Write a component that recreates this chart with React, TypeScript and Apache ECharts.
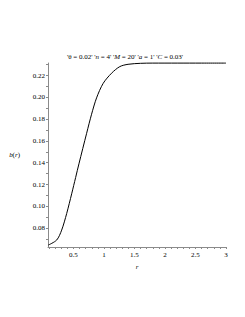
import React, { useEffect, useRef } from "react";
import * as echarts from "echarts";

const rValues = [0.088, 0.2255, 0.307, 0.389, 0.471, 0.536, 0.59, 0.716, 0.797, 0.879, 0.987, 1.124, 1.26, 1.395, 1.6, 1.8, 2.2, 2.6, 3.0];
const bValues = [0.0645, 0.0691, 0.0782, 0.0934, 0.1115, 0.1265, 0.139, 0.167, 0.1845, 0.1995, 0.2128, 0.2221, 0.2282, 0.2303, 0.2312, 0.2314, 0.2314, 0.2314, 0.2314];
const xTickLabels = [0.5, 1, 1.5, 2, 2.5, 3];
const xMinorTicks = [0.1, 0.2, 0.3, 0.4, 0.5, 0.6, 0.7, 0.8, 0.9, 1.0, 1.1, 1.2, 1.3, 1.4, 1.5, 1.6, 1.7, 1.8, 1.9, 2.0, 2.1, 2.2, 2.3, 2.4, 2.5, 2.6, 2.7, 2.8, 2.9, 3.0];
const yTickLabels = [0.08, 0.1, 0.12, 0.14, 0.16, 0.18, 0.2, 0.22];
const yMinorTicks = [0.07, 0.08, 0.09, 0.1, 0.11, 0.12, 0.13, 0.14, 0.15, 0.16, 0.17, 0.18, 0.19, 0.2, 0.21, 0.22, 0.23];

const FONT = "Liberation Serif";

export default function App() {
  const ref = useRef<HTMLDivElement>(null);
  useEffect(() => {
    if (!ref.current) return;
    const chart = echarts.init(ref.current, null, { renderer: "svg" });
    chart.setOption({
      animation: false,
      backgroundColor: "#ffffff",
      title: {
        text: "{q|'θ = 0.02' '}{i|n}{q| = 4' '}{i|M}{q| = 20' '}{i|a}{q| = 1' '}{i|C}{q| = 0.03'}",
        left: 120,
        top: 48,
        textAlign: "center",
        textStyle: {
          fontFamily: FONT,
          fontSize: 7,
          color: "#000",
          fontWeight: "normal",
          rich: {
            q: { fontFamily: FONT, fontSize: 7, color: "#000" },
            i: { fontFamily: FONT, fontSize: 7, color: "#000", fontStyle: "italic" },
          },
        },
      },
      grid: { left: 48, right: 19, top: 63, bottom: 70, containLabel: false },
      xAxis: {
        type: "value",
        min: 0.083,
        max: 3,
        name: "r",
        nameLocation: "middle",
        nameGap: 16,
        nameTextStyle: { fontFamily: FONT, fontSize: 7, fontStyle: "italic", color: "#000" },
        axisLine: { show: true, onZero: false, lineStyle: { color: "#8a8a8a", width: 1 } },
        axisTick: { show: true, length: 2, lineStyle: { color: "#8a8a8a" }, customValues: xMinorTicks },
        axisLabel: {
          customValues: xTickLabels,
          fontFamily: FONT,
          fontSize: 7,
          color: "#000",
          margin: 4,
          formatter: (v: number) => String(v),
        },
        splitLine: { show: false },
      },
      yAxis: {
        type: "value",
        min: 0.0627,
        max: 0.2315,
        name: "{i|b}({i|r})",
        nameLocation: "middle",
        nameRotate: 0,
        nameGap: 28,
        nameTextStyle: {
          fontFamily: FONT,
          fontSize: 7,
          color: "#000",
          rich: { i: { fontFamily: FONT, fontSize: 7, fontStyle: "italic", color: "#000" } },
        },
        axisLine: { show: true, onZero: false, lineStyle: { color: "#8a8a8a", width: 1 } },
        axisTick: { show: true, length: 2, lineStyle: { color: "#8a8a8a" }, customValues: yMinorTicks },
        axisLabel: {
          customValues: yTickLabels,
          fontFamily: FONT,
          fontSize: 7,
          color: "#000",
          margin: 3,
          formatter: (v: number) => v.toFixed(2),
        },
        splitLine: { show: false },
      },
      series: [
        {
          type: "line",
          data: rValues.map((r, i) => [r, bValues[i]]),
          smooth: 0.3,
          showSymbol: false,
          clip: false,
          lineStyle: { color: "#000", width: 1 },
        },
      ],
    });
    return () => chart.dispose();
  }, []);
  return <div ref={ref} style={{ position: "fixed", left: 0, top: 0, width: 245, height: 317 }} />;
}
